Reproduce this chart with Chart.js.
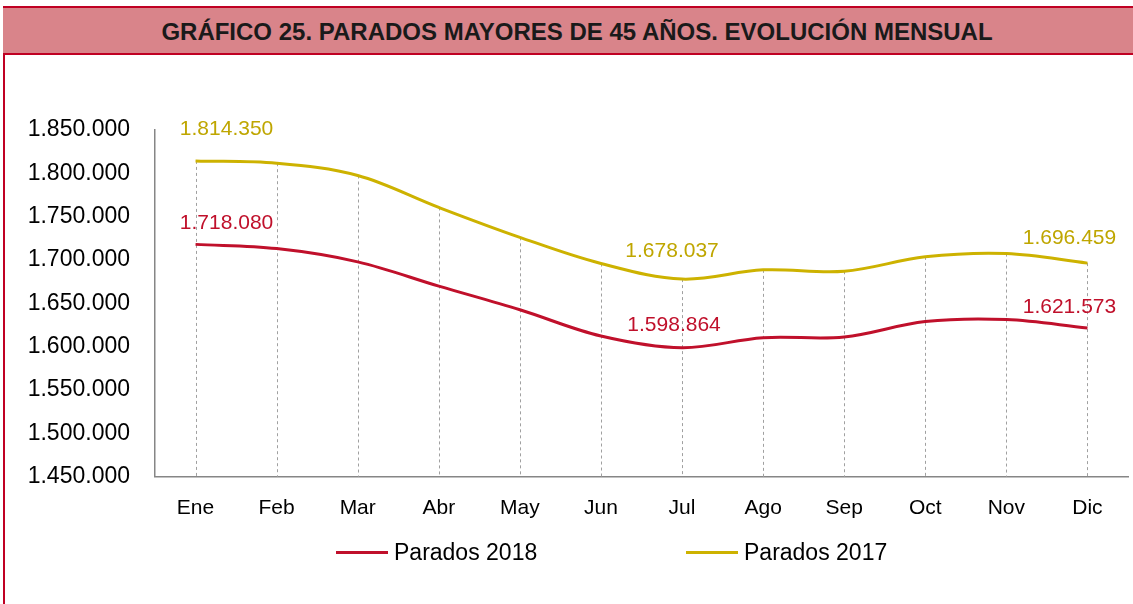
<!DOCTYPE html>
<html lang="es">
<head>
<meta charset="utf-8">
<script src="https://cdn.jsdelivr.net/npm/chart.js@4.4.1/dist/chart.umd.min.js"></script>
<style>
    html, body { margin: 0; padding: 0; background: #fff; }
    body { width: 1133px; height: 604px; position: relative; overflow: hidden; font-family: "Liberation Sans", Arial, sans-serif; }
    #frame-left { position: absolute; left: 3px; top: 6px; width: 2px; height: 600px; background: #C00023; }
    #banner {
        position: absolute; left: 3px; top: 6px; width: 1140px; height: 45px;
        background: #D9848A; border-top: 2px solid #C00023; border-bottom: 2px solid #C00023;
        font-weight: bold; font-size: 24px; color: #1a1a1a; text-align: center; line-height: 47px;
        box-sizing: content-box;
    }
    #banner span { position: relative; left: 4px; }
    #chart-wrap { position: absolute; left: 0; top: 0; width: 1133px; height: 604px; }
    #legend { position: absolute; top: 538px; left: 0; width: 1133px; height: 28px; font-size: 23px; color: #000; }
    .leg-item { position: absolute; top: 0; line-height: 28px; white-space: nowrap; }
    .leg-line { display: inline-block; width: 52px; height: 3px; vertical-align: middle; margin-right: 6px; position: relative; top: -1px; }
</style>
</head>
<body>
<div id="chart-wrap"><canvas id="chart" width="1133" height="604"></canvas></div>
<div id="frame-left"></div>
<div id="banner"><span>GRÁFICO 25. PARADOS MAYORES DE 45 AÑOS. EVOLUCIÓN MENSUAL</span></div>
<div id="legend"></div>
<script>
const months = ['Ene', 'Feb', 'Mar', 'Abr', 'May', 'Jun', 'Jul', 'Ago', 'Sep', 'Oct', 'Nov', 'Dic'];
const parados2018 = [1718080, 1713200, 1697900, 1669900, 1642700, 1612400, 1598864, 1610500, 1611300, 1629000, 1631300, 1621573];
const parados2017 = [1814350, 1811700, 1797500, 1760700, 1726200, 1696000, 1678037, 1688700, 1687100, 1703700, 1707500, 1696459];
const yTicks = [1450000, 1500000, 1550000, 1600000, 1650000, 1700000, 1750000, 1800000, 1850000];
const labelledPoints = [0, 6, 11];

const RED = '#C0102B';
const GOLD = '#CDB200';
const GOLD_TEXT = '#BFA600';
const FONT = '"Liberation Sans", Arial, sans-serif';

function formatMiles(num) {
    return String(Math.round(num)).replace(/\B(?=(\d{3})+(?!\d))/g, '.');
}

// offsets of the value labels (dx, dy from the point)
const labelOffsets = {
    0: { 0: [31, -21], 6: [-8, -23], 11: [-18, -21] },
    1: { 0: [31, -32], 6: [-10, -28], 11: [-18, -25] }
};

// excel style drop lines: from the highest point down to the axis
const dropLines = {
    id: 'dropLines',
    beforeDatasetsDraw(chart) {
        const ctx = chart.ctx;
        const bottom = chart.chartArea.bottom;
        const metas = chart.data.datasets.map((d, i) => chart.getDatasetMeta(i));
        ctx.save();
        ctx.strokeStyle = '#A0A0A0';
        ctx.lineWidth = 1;
        ctx.setLineDash([3, 3]);
        months.forEach((m, i) => {
            const x = Math.round(metas[0].data[i].x) + 0.5;
            const top = Math.min(...metas.map(mt => mt.data[i].y));
            ctx.beginPath();
            ctx.moveTo(x, top);
            ctx.lineTo(x, bottom);
            ctx.stroke();
        });
        ctx.restore();
    }
};

const valueLabels = {
    id: 'valueLabels',
    afterDatasetsDraw(chart) {
        const ctx = chart.ctx;
        ctx.save();
        ctx.font = '21px ' + FONT;
        ctx.textAlign = 'center';
        ctx.textBaseline = 'middle';
        chart.data.datasets.forEach((ds, di) => {
            const meta = chart.getDatasetMeta(di);
            ctx.fillStyle = ds.labelColor;
            labelledPoints.forEach(i => {
                const pt = meta.data[i];
                const off = labelOffsets[di][i];
                ctx.fillText(formatMiles(ds.data[i]), pt.x + off[0], pt.y + off[1]);
            });
        });
        ctx.restore();
    }
};

const datasets = [
    { label: 'Parados 2018', data: parados2018, borderColor: RED, labelColor: RED },
    { label: 'Parados 2017', data: parados2017, borderColor: GOLD, labelColor: GOLD_TEXT }
];

new Chart(document.getElementById('chart').getContext('2d'), {
    type: 'line',
    data: {
        labels: months,
        datasets: datasets.map(d => ({
            ...d,
            borderWidth: 3,
            pointRadius: 0,
            pointHoverRadius: 0,
            tension: 0.35,
            fill: false
        }))
    },
    options: {
        responsive: false,
        animation: false,
        layout: { padding: { top: 130, left: 0, right: 5, bottom: 64 } },
        plugins: {
            legend: { display: false },
            tooltip: { enabled: false }
        },
        scales: {
            x: {
                offset: true,
                grid: { display: false, drawTicks: false },
                border: { display: true, color: '#868686', width: 1.5 },
                ticks: { color: '#000', padding: 19, font: { size: 21, family: FONT } }
            },
            y: {
                min: yTicks[0],
                max: yTicks[yTicks.length - 1],
                afterBuildTicks: (scale) => { scale.ticks = yTicks.map(v => ({ value: v })); },
                afterFit: (scale) => { scale.width = 155; },
                grid: { display: false, drawTicks: false },
                border: { display: true, color: '#868686', width: 1.5 },
                ticks: {
                    color: '#000', padding: 25,
                    font: { size: 23, family: FONT },
                    callback: (v) => formatMiles(v)
                }
            }
        }
    },
    plugins: [dropLines, valueLabels]
});

// legend as html, line + text per series
const legendEl = document.getElementById('legend');
const legendX = [336, 686];
datasets.forEach((d, i) => {
    const item = document.createElement('div');
    item.className = 'leg-item';
    item.style.left = legendX[i] + 'px';
    item.innerHTML = `<span class="leg-line" style="background:${d.borderColor}"></span>${d.label}`;
    legendEl.appendChild(item);
});
</script>
</body>
</html>
